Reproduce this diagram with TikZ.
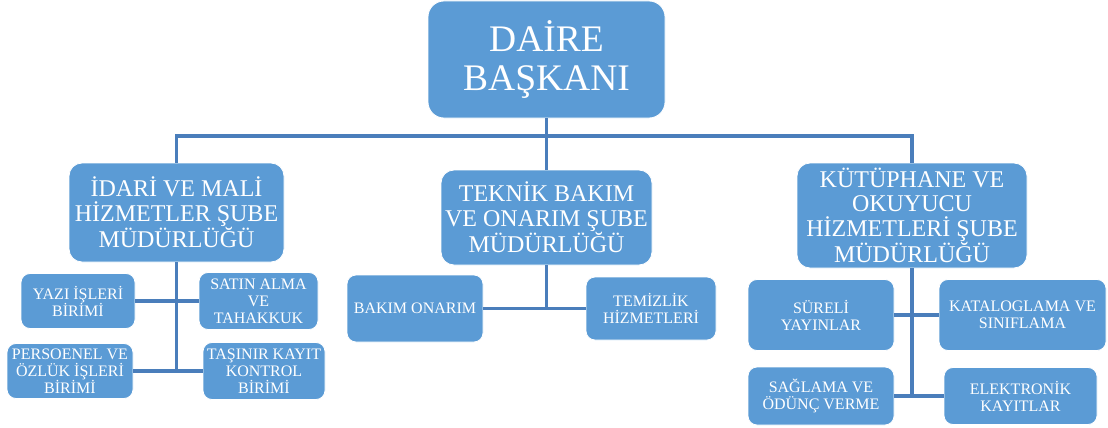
\documentclass[tikz,border=0pt]{standalone}
\usepackage{fontspec}
\setmainfont{Liberation Serif}
\usepackage{xcolor}
\usepackage{tikz}
\usetikzlibrary{positioning,calc}

\definecolor{boxblue}{HTML}{5B9BD5}
\definecolor{lineblue}{HTML}{4A7EBB}

\begin{document}
\begin{tikzpicture}[x=1pt,y=-1pt,
  unit/.style={rectangle,rounded corners=9pt,fill=boxblue,draw=white,line width=0.8pt,
    text=white,align=center,inner sep=1pt},
  topbox/.style={unit,rounded corners=16pt,font=\fontsize{37.5}{39}\selectfont},
  midbox/.style={unit,rounded corners=13pt,font=\fontsize{24}{24.5}\selectfont},
  subbox/.style={unit,font=\fontsize{16}{17}\selectfont},
  link/.style={draw=lineblue,line width=3.2pt}]
  \useasboundingbox (0,0) rectangle (1108,428);

  % top
  \node[topbox,minimum width=237,minimum height=117] (daire) at (546.5,59.5) {DAİRE\\BAŞKANI};

  % branches
  \node[midbox,minimum width=215,minimum height=99] (idari) at (176.5,212.5) {İDARİ VE MALİ\\HİZMETLER ŞUBE\\MÜDÜRLÜĞÜ};
  \node[midbox,minimum width=211,minimum height=95] (teknik) at (546.5,217.5) {TEKNİK BAKIM\\VE ONARIM ŞUBE\\MÜDÜRLÜĞÜ};
  \node[midbox,minimum width=230,minimum height=105] (kutup) at (912,215.5) {KÜTÜPHANE VE\\OKUYUCU\\HİZMETLERİ ŞUBE\\MÜDÜRLÜĞÜ};

  % units under idari
  \node[subbox,minimum width=114,minimum height=55] (yazi) at (78,301) {YAZI İŞLERİ\\BİRİMİ};
  \node[subbox,minimum width=119,minimum height=57] (satin) at (258.5,301) {SATIN ALMA\\VE\\TAHAKKUK};
  \node[subbox,minimum width=126,minimum height=55] (persoenel) at (70,371) {PERSOENEL VE\\ÖZLÜK İŞLERİ\\BİRİMİ};
  \node[subbox,minimum width=122,minimum height=57] (tasinir) at (264,371) {TAŞINIR KAYIT\\KONTROL\\BİRİMİ};

  % units under teknik
  \node[subbox,minimum width=136,minimum height=67] (bakim) at (415,308.5) {BAKIM ONARIM};
  \node[subbox,minimum width=130,minimum height=63] (temizlik) at (651,308.5) {TEMİZLİK\\HİZMETLERİ};

  % units under kutup
  \node[subbox,minimum width=146,minimum height=71] (sureli) at (821,315) {SÜRELİ\\YAYINLAR};
  \node[subbox,minimum width=167,minimum height=71] (katalog) at (1022.5,315) {KATALOGLAMA VE\\SINIFLAMA};
  \node[subbox,minimum width=146,minimum height=58] (saglama) at (821,396) {SAĞLAMA VE\\ÖDÜNÇ VERME};
  \node[subbox,minimum width=153,minimum height=57] (elektronik) at (1020.5,396) {ELEKTRONİK\\KAYITLAR};

  \coordinate (bus) at (546.5,136);

  \draw[link] (daire) -- (teknik);
  \draw[link] (idari) |- (bus) -| (kutup);

  \draw[link] (idari) -- (idari.south |- persoenel);
  \draw[link] (yazi) -- (satin);
  \draw[link] (persoenel) -- (tasinir);

  \draw[link] (teknik) -- (teknik.south |- bakim);
  \draw[link] (bakim) -- (temizlik);

  \draw[link] (kutup) -- (kutup.south |- saglama);
  \draw[link] (sureli) -- (katalog);
  \draw[link] (saglama) -- (elektronik);
\end{tikzpicture}
\end{document}
